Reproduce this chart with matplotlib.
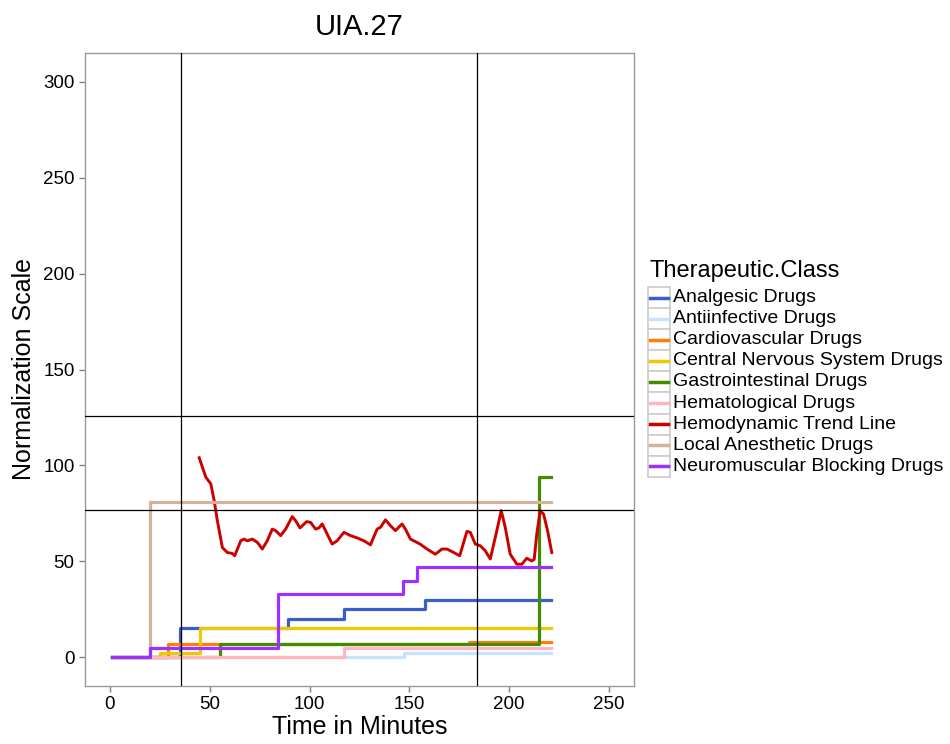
import matplotlib
matplotlib.use("Agg")
import matplotlib.pyplot as plt
from matplotlib.patches import Rectangle
from matplotlib.lines import Line2D

plt.rcParams['font.family'] = ['Liberation Sans', 'DejaVu Sans']

# ---------------- data ----------------
title = "UIA.27"
t_end = 221

classes = ["Analgesic Drugs", "Antiinfective Drugs", "Cardiovascular Drugs",
           "Central Nervous System Drugs", "Gastrointestinal Drugs",
           "Hematological Drugs", "Hemodynamic Trend Line",
           "Local Anesthetic Drugs", "Neuromuscular Blocking Drugs"]
colors = ["#3A5FCD", "#C6E2FF", "#FF7F00", "#EEC900", "#458B00",
          "#FFB6C1", "#CD0000", "#D2B49C", "#9B30FF"]

analgesic_t = [1, 35, 89, 117, 158]
analgesic_v = [0, 15, 20, 25, 30]
antiinfective_t = [1, 147.5]
antiinfective_v = [0, 2]
cardio_t = [1, 29, 180]
cardio_v = [0, 7, 8]
cns_t = [1, 25, 45]
cns_v = [0, 2, 15]
gastro_t = [1, 55, 215]
gastro_v = [0, 7, 94]
hemato_t = [1, 117]
hemato_v = [0, 5]
local_t = [1, 20]
local_v = [0, 81]
neuro_t = [1, 20, 84, 147, 154]
neuro_v = [0, 5, 33, 40, 47]

trend_t = [44.7, 48, 50.5, 52.2, 53.8, 56.3, 58.8, 61.3, 62.5, 65.5, 67.2, 68.8,
           71.3, 73.8, 76.3, 78.8, 81.3, 83, 85.5, 88, 91.3, 93, 95.2, 98.5,
           100.5, 103, 104.7, 106.3, 111.3, 113.8, 117.2, 120.5, 123.8, 127.2,
           130.5, 133.8, 135.5, 138, 140.5, 143, 146.3, 148, 150.5, 152.2,
           155.5, 158.8, 163, 166.3, 168.8, 172.2, 175.2, 178.8, 180.5, 183,
           185.5, 188, 190.5, 193.8, 196, 198, 200.5, 203.8, 206.3, 208.8,
           211.3, 212.5, 213.8, 215.5, 217.2, 219.2, 221.3]
trend_v = [104, 93.9, 90.4, 81.7, 71.2, 57.2, 54.6, 54.1, 52.9, 60.7, 61.6, 60.7,
           61.6, 59.9, 56.4, 60.7, 66.8, 66.0, 63.4, 66.8, 73.3, 71.2, 67.4, 70.7,
           70.3, 66.8, 67.4, 69.5, 59.0, 60.7, 65.1, 63.4, 62.2, 60.7,
           58.6, 66.8, 67.7, 71.6, 68.6, 66.0, 69.5, 66.8, 61.6, 60.7,
           58.9, 56.4, 53.7, 56.4, 56.4, 54.6, 52.9, 65.6, 65.1, 59.0,
           58.1, 55.5, 51.2, 66.0, 76.4, 67.7, 53.7, 48.5, 48.5, 51.6,
           50.2, 51.0, 64.2, 76.4, 74.6, 66.0, 54.6]

vlines_x = [35.5, 184]
hlines_y = [125.7, 77]

x_ticks = [0, 50, 100, 150, 200, 250]
y_ticks = [0, 50, 100, 150, 200, 250, 300]

# ---------------- figure ----------------
W, H = 950, 744
fig = plt.figure(figsize=(W / 100, H / 100), dpi=100)
ax = fig.add_axes([85 / W, 1 - 686 / H, (634 - 85) / W, (686 - 53) / H])

step_series = {
    "Analgesic Drugs": (analgesic_t, analgesic_v),
    "Antiinfective Drugs": (antiinfective_t, antiinfective_v),
    "Cardiovascular Drugs": (cardio_t, cardio_v),
    "Central Nervous System Drugs": (cns_t, cns_v),
    "Gastrointestinal Drugs": (gastro_t, gastro_v),
    "Hematological Drugs": (hemato_t, hemato_v),
    "Local Anesthetic Drugs": (local_t, local_v),
    "Neuromuscular Blocking Drugs": (neuro_t, neuro_v),
}

lw = 2.3
for z, (name, col) in enumerate(zip(classes, colors)):
    if name == "Hemodynamic Trend Line":
        ax.plot(trend_t, trend_v, color=col, lw=2.1, zorder=2 + z,
                solid_joinstyle='round')
    else:
        t, v = step_series[name]
        ax.plot(list(t) + [t_end], list(v) + [v[-1]], drawstyle='steps-post',
                color=col, lw=lw, zorder=2 + z)

for xv in vlines_x:
    ax.axvline(xv, color='black', lw=0.9, zorder=20)
for yv in hlines_y:
    ax.axhline(yv, color='black', lw=0.9, zorder=20)

ax.set_xlim(-12.5, 262.5)
ax.set_ylim(-15, 315)
ax.set_xticks(x_ticks)
ax.set_yticks(y_ticks)
ax.tick_params(axis='both', colors='#7f7f7f', labelcolor='black',
               labelsize=13.5, length=4, width=1)
for sp in ax.spines.values():
    sp.set_color('#999999')
    sp.set_linewidth(1.0)

ax.set_xlabel("Time in Minutes", fontsize=18, labelpad=1)
ax.set_ylabel("Normalization Scale", fontsize=18, labelpad=5)
fig.text(359 / W, 1 - 27 / H, title, fontsize=21, ha='center', va='center')

# ---------------- legend ----------------
fig.text(650 / W, 1 - 271 / H, "Therapeutic.Class", fontsize=17,
         ha='left', va='center')
y0 = 297.5
dy = 21.1
for i, (name, col) in enumerate(zip(classes, colors)):
    yc = y0 + i * dy
    fig.add_artist(Rectangle((647.5 / W, 1 - (yc + dy / 2) / H), 22 / W, dy / H,
                             transform=fig.transFigure, facecolor='white',
                             edgecolor='#cccccc', lw=1.2))
    fig.add_artist(Line2D([650 / W, 668 / W], [1 - yc / H, 1 - yc / H],
                          transform=fig.transFigure, color=col, lw=2.5))
    fig.text(673 / W, 1 - yc / H, name, fontsize=14, ha='left', va='center')

fig.savefig("out.png", dpi=100, facecolor='white')
